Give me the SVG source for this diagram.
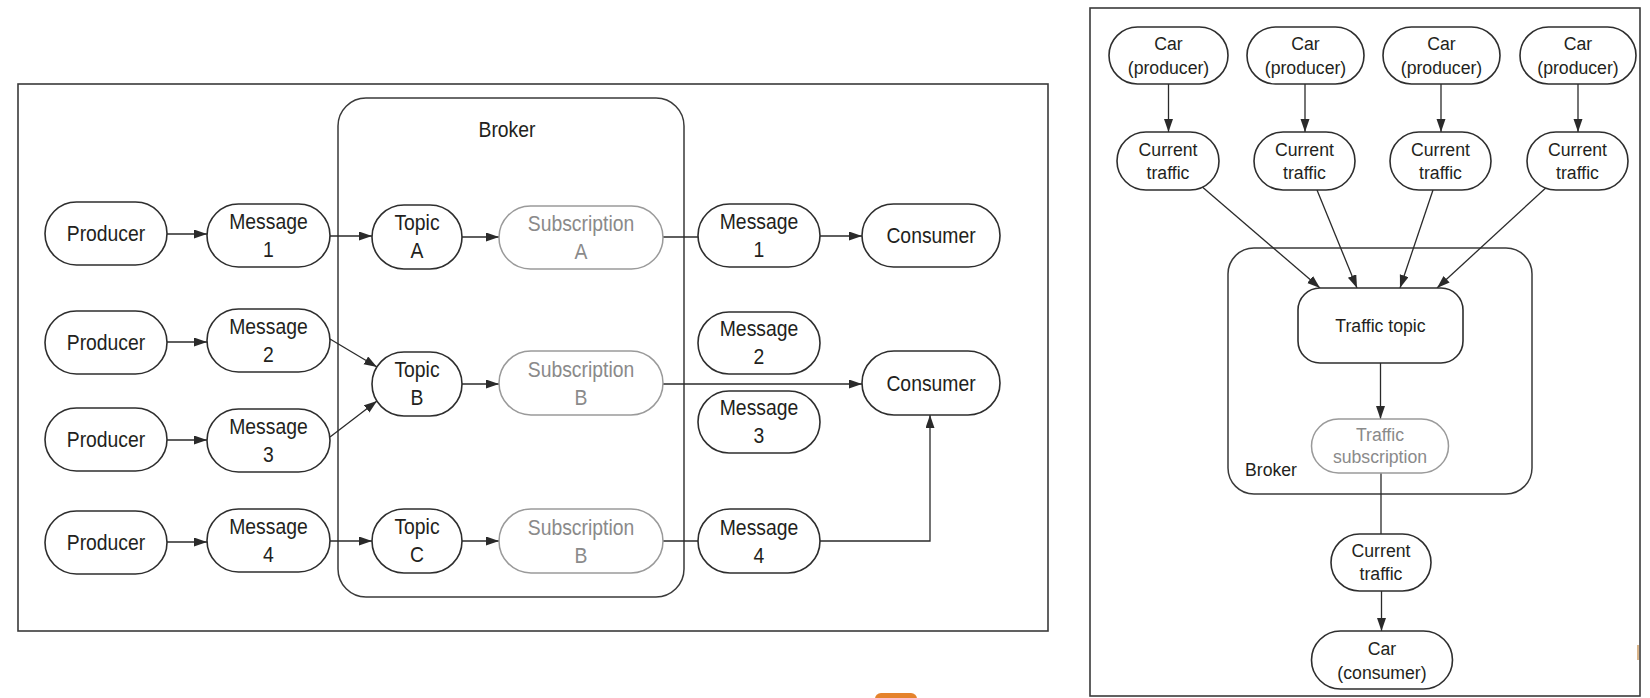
<svg xmlns="http://www.w3.org/2000/svg" width="1650" height="698" viewBox="0 0 1650 698">
<style>
  .frame { fill: none; stroke: #3a3a3a; stroke-width: 1.6; }
  .broker { fill: none; stroke: #3a3a3a; stroke-width: 1.5; }
  .n { fill: #ffffff; stroke: #2e2e2e; stroke-width: 1.6; }
  .s { fill: #ffffff; stroke: #9a9a9a; stroke-width: 1.5; }
  text { font-family: "Liberation Sans", Arial, Helvetica, sans-serif; text-anchor: middle; fill: #231f20;
         transform-box: fill-box; transform-origin: 50% 50%; }
  .L { font-size: 21.5px; transform: scaleX(0.9); }
  .R { font-size: 19px; transform: scaleX(0.93); }
  .g { fill: #8a8a8a; }
  .c { fill: none; stroke: #2a2a2a; stroke-width: 1.3; }
  .ca { fill: none; stroke: #2a2a2a; stroke-width: 1.3; marker-end: url(#ah); }
</style>
<defs>
  <marker id="ah" markerUnits="userSpaceOnUse" markerWidth="14" markerHeight="10" refX="13" refY="4.5" orient="auto">
    <path d="M0,0 L13,4.5 L0,9 z" fill="#2a2a2a"/>
  </marker>
</defs>
<rect width="1650" height="698" fill="#ffffff"/>

<!-- LEFT DIAGRAM -->
<rect id="left-frame" class="frame" x="18" y="84" width="1030" height="547"/>
<g id="broker-left">
  <rect class="broker" x="338" y="98" width="346" height="499" rx="28"/>
  <text class="L" x="507" y="137">Broker</text>
</g>

<g id="connectors-left">
  <path class="ca" d="M167,234 H207"/>
  <path class="ca" d="M330,236 H372"/>
  <path class="ca" d="M462,237 H499"/>
  <path class="c" d="M663,237 H698"/>
  <path class="ca" d="M820,236 H862"/>
  <path class="ca" d="M167,342 H207"/>
  <path class="ca" d="M167,440 H207"/>
  <path class="ca" d="M330,339 L377,367"/>
  <path class="ca" d="M330,437 L377,401"/>
  <path class="ca" d="M462,384 H499"/>
  <path class="ca" d="M663,384 H862"/>
  <path class="ca" d="M167,542 H207"/>
  <path class="ca" d="M330,541 H372"/>
  <path class="ca" d="M462,541 H499"/>
  <path class="c" d="M663,541 H698"/>
  <path class="ca" d="M820,541 H930 V415"/>
</g>

<g id="producer-1"><rect class="n" x="45" y="202" width="122" height="63" rx="31.5"/><text class="L" x="106" y="241">Producer</text></g>
<g id="producer-2"><rect class="n" x="45" y="311" width="122" height="63" rx="31.5"/><text class="L" x="106" y="350">Producer</text></g>
<g id="producer-3"><rect class="n" x="45" y="408" width="122" height="63" rx="31.5"/><text class="L" x="106" y="447">Producer</text></g>
<g id="producer-4"><rect class="n" x="45" y="511" width="122" height="63" rx="31.5"/><text class="L" x="106" y="550">Producer</text></g>

<g id="message-1"><rect class="n" x="207" y="204" width="123" height="63" rx="31.5"/><text class="L" x="268.5" y="229"><tspan x="268.5">Message</tspan><tspan x="268.5" y="257">1</tspan></text></g>
<g id="message-2"><rect class="n" x="207" y="309" width="123" height="63" rx="31.5"/><text class="L" x="268.5" y="334"><tspan x="268.5">Message</tspan><tspan x="268.5" y="362">2</tspan></text></g>
<g id="message-3"><rect class="n" x="207" y="409" width="123" height="63" rx="31.5"/><text class="L" x="268.5" y="434"><tspan x="268.5">Message</tspan><tspan x="268.5" y="462">3</tspan></text></g>
<g id="message-4"><rect class="n" x="207" y="509" width="123" height="63" rx="31.5"/><text class="L" x="268.5" y="534"><tspan x="268.5">Message</tspan><tspan x="268.5" y="562">4</tspan></text></g>

<g id="topic-a"><rect class="n" x="372" y="205" width="90" height="64" rx="32"/><text class="L" x="417" y="230"><tspan x="417">Topic</tspan><tspan x="417" y="258">A</tspan></text></g>
<g id="topic-b"><rect class="n" x="372" y="352" width="90" height="64" rx="32"/><text class="L" x="417" y="377"><tspan x="417">Topic</tspan><tspan x="417" y="405">B</tspan></text></g>
<g id="topic-c"><rect class="n" x="372" y="509" width="90" height="64" rx="32"/><text class="L" x="417" y="534"><tspan x="417">Topic</tspan><tspan x="417" y="562">C</tspan></text></g>

<g id="subscription-a"><rect class="s" x="499" y="206" width="164" height="63" rx="31.5"/><text class="L g" x="581" y="231"><tspan x="581">Subscription</tspan><tspan x="581" y="259">A</tspan></text></g>
<g id="subscription-b"><rect class="s" x="499" y="351" width="164" height="64" rx="32"/><text class="L g" x="581" y="377"><tspan x="581">Subscription</tspan><tspan x="581" y="405">B</tspan></text></g>
<g id="subscription-b-2"><rect class="s" x="499" y="509" width="164" height="64" rx="32"/><text class="L g" x="581" y="535"><tspan x="581">Subscription</tspan><tspan x="581" y="563">B</tspan></text></g>

<g id="message-1-out"><rect class="n" x="698" y="204" width="122" height="63" rx="31.5"/><text class="L" x="759" y="229"><tspan x="759">Message</tspan><tspan x="759" y="257">1</tspan></text></g>
<g id="message-2-out"><rect class="n" x="698" y="312" width="122" height="62" rx="31"/><text class="L" x="759" y="336"><tspan x="759">Message</tspan><tspan x="759" y="364">2</tspan></text></g>
<g id="message-3-out"><rect class="n" x="698" y="391" width="122" height="62" rx="31"/><text class="L" x="759" y="415"><tspan x="759">Message</tspan><tspan x="759" y="443">3</tspan></text></g>
<g id="message-4-out"><rect class="n" x="698" y="509" width="122" height="64" rx="32"/><text class="L" x="759" y="535"><tspan x="759">Message</tspan><tspan x="759" y="563">4</tspan></text></g>

<g id="consumer-1"><rect class="n" x="862" y="204" width="138" height="63" rx="31.5"/><text class="L" x="931" y="243">Consumer</text></g>
<g id="consumer-2"><rect class="n" x="862" y="351" width="138" height="64" rx="32"/><text class="L" x="931" y="391">Consumer</text></g>

<!-- RIGHT DIAGRAM -->
<rect id="right-frame" class="frame" x="1090" y="8" width="550" height="688"/>
<g id="broker-right">
  <rect class="broker" x="1228" y="248" width="304" height="246" rx="26"/>
  <text class="R" x="1271" y="476">Broker</text>
</g>

<g id="connectors-right">
  <path class="ca" d="M1168.5,84 V132"/>
  <path class="ca" d="M1305,84 V132"/>
  <path class="ca" d="M1441,84 V132"/>
  <path class="ca" d="M1578,84 V132"/>
  <path class="ca" d="M1200,185 L1320,288"/>
  <path class="ca" d="M1317,190 L1357,288"/>
  <path class="ca" d="M1433,190 L1400,288"/>
  <path class="ca" d="M1549,185 L1437,288"/>
  <path class="ca" d="M1380.5,363 V419"/>
  <path class="c" d="M1381,473 V534"/>
  <path class="ca" d="M1381.5,591 V631"/>
</g>

<g id="car-producer-1"><rect class="n" x="1109" y="27" width="119" height="57" rx="28.5"/><text class="R" x="1168.5" y="50"><tspan x="1168.5">Car</tspan><tspan x="1168.5" y="74">(producer)</tspan></text></g>
<g id="car-producer-2"><rect class="n" x="1247" y="27" width="117" height="57" rx="28.5"/><text class="R" x="1305.5" y="50"><tspan x="1305.5">Car</tspan><tspan x="1305.5" y="74">(producer)</tspan></text></g>
<g id="car-producer-3"><rect class="n" x="1383" y="27" width="117" height="57" rx="28.5"/><text class="R" x="1441.5" y="50"><tspan x="1441.5">Car</tspan><tspan x="1441.5" y="74">(producer)</tspan></text></g>
<g id="car-producer-4"><rect class="n" x="1520" y="27" width="116" height="57" rx="28.5"/><text class="R" x="1578" y="50"><tspan x="1578">Car</tspan><tspan x="1578" y="74">(producer)</tspan></text></g>

<g id="current-traffic-1"><rect class="n" x="1117" y="132" width="102" height="58" rx="29"/><text class="R" x="1168" y="156"><tspan x="1168">Current</tspan><tspan x="1168" y="179">traffic</tspan></text></g>
<g id="current-traffic-2"><rect class="n" x="1254" y="132" width="101" height="58" rx="29"/><text class="R" x="1304.5" y="156"><tspan x="1304.5">Current</tspan><tspan x="1304.5" y="179">traffic</tspan></text></g>
<g id="current-traffic-3"><rect class="n" x="1390" y="132" width="101" height="58" rx="29"/><text class="R" x="1440.5" y="156"><tspan x="1440.5">Current</tspan><tspan x="1440.5" y="179">traffic</tspan></text></g>
<g id="current-traffic-4"><rect class="n" x="1527" y="132" width="101" height="58" rx="29"/><text class="R" x="1577.5" y="156"><tspan x="1577.5">Current</tspan><tspan x="1577.5" y="179">traffic</tspan></text></g>

<g id="traffic-topic"><rect class="n" x="1298" y="288" width="165" height="75" rx="22"/><text class="R" x="1380.5" y="332">Traffic topic</text></g>
<g id="traffic-subscription"><rect class="s" x="1311.5" y="419" width="137" height="54" rx="27"/><text class="R g" x="1380" y="441"><tspan x="1380">Traffic</tspan><tspan x="1380" y="463">subscription</tspan></text></g>

<g id="current-traffic-out"><rect class="n" x="1331" y="534" width="100" height="57" rx="28.5"/><text class="R" x="1381" y="557"><tspan x="1381">Current</tspan><tspan x="1381" y="580">traffic</tspan></text></g>
<g id="car-consumer"><rect class="n" x="1311.5" y="631" width="141" height="58" rx="29"/><text class="R" x="1382" y="655"><tspan x="1382">Car</tspan><tspan x="1382" y="679">(consumer)</tspan></text></g>

<!-- small cropped fragments at the edges -->
<rect x="875" y="693" width="42" height="12" rx="6" fill="#e5832c"/>
<rect x="1637" y="645" width="2" height="15" fill="#d9b489"/>
</svg>
